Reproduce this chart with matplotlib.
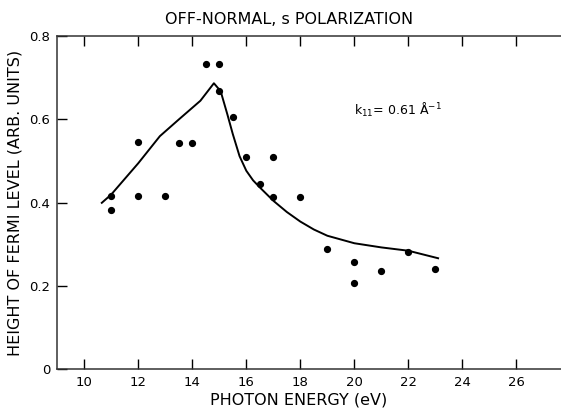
import matplotlib
matplotlib.use("Agg")
import matplotlib.pyplot as plt

# measured points (photon energy in eV, height in arb. units)
pt_energy = [11.0, 11.0, 12.0, 12.0, 13.0, 13.5, 14.0, 14.5, 15.0, 15.0,
             15.5, 16.0, 16.5, 17.0, 17.0, 18.0, 19.0, 20.0, 20.0, 21.0,
             22.0, 23.0]
pt_height = [0.416, 0.383, 0.416, 0.545, 0.416, 0.543, 0.543, 0.734, 0.734, 0.669,
             0.606, 0.509, 0.446, 0.509, 0.414, 0.414, 0.288, 0.259, 0.208, 0.237,
             0.283, 0.240]

# calculated curve
curve_energy = [10.65, 11.0, 12.0, 12.8, 13.5, 14.3, 14.8, 15.05, 15.3, 15.5,
                15.75, 16.0, 16.25, 16.5, 17.0, 17.5, 18.0, 18.5, 19.0, 20.0,
                21.0, 22.0, 23.1]
curve_height = [0.400, 0.420, 0.495, 0.560, 0.600, 0.645, 0.687, 0.668, 0.612, 0.565,
                0.512, 0.477, 0.454, 0.437, 0.405, 0.378, 0.355, 0.336, 0.321, 0.303,
                0.293, 0.285, 0.267]

xticks = [10, 12, 14, 16, 18, 20, 22, 24, 26]
yticks = [0, 0.2, 0.4, 0.6, 0.8]
ytick_labels = ["0", "0.2", "0.4", "0.6", "0.8"]

plt.rcParams["font.family"] = ["DejaVu Sans"]

fig = plt.figure(figsize=(5.61, 4.11), dpi=100)
ax = fig.add_axes([0.102, 0.101, 0.898, 0.811])

ax.plot(curve_energy, curve_height, color="black", lw=1.4)
ax.plot(pt_energy, pt_height, "o", color="black", markersize=4.2)

ax.set_xlim(9, 27.65)
ax.set_ylim(0, 0.8)
ax.set_xticks(xticks)
ax.set_yticks(yticks)
ax.set_yticklabels(ytick_labels)
ax.tick_params(direction="in", length=7, width=1, labelsize=9.5,
               top=True, right=False, pad=5)
ax.spines["right"].set_visible(False)
for s in ["left", "bottom", "top"]:
    ax.spines[s].set_linewidth(1.1)
    ax.spines[s].set_color("#333333")

ax.set_title("OFF-NORMAL, s POLARIZATION", fontsize=11.5, pad=9, x=0.46)
ax.set_xlabel("PHOTON ENERGY (eV)", fontsize=11.5, labelpad=2, x=0.48)
ax.set_ylabel("HEIGHT OF FERMI LEVEL (ARB. UNITS)", fontsize=11.5, labelpad=5)
ax.text(20.0, 0.623, r"k$_{11}$= 0.61 $\mathrm{\AA}^{-1}$", fontsize=9, va="center")

fig.savefig("out.png", dpi=100)
